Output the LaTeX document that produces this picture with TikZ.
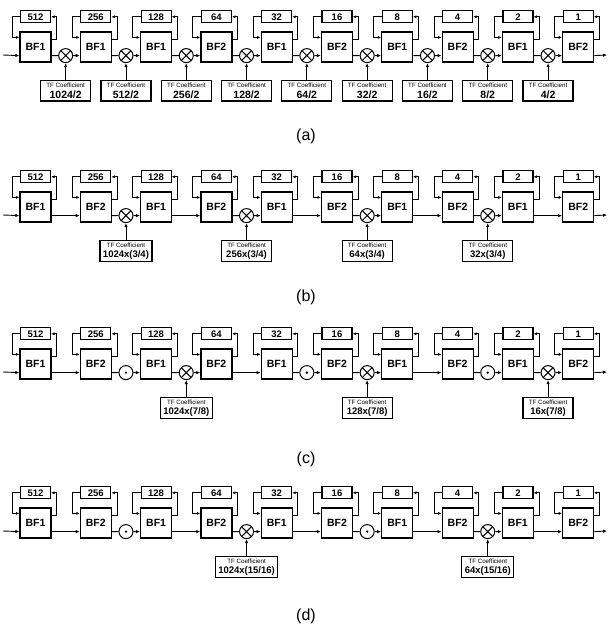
\documentclass[tikz,border=0pt]{standalone}
\usepackage{fontspec}
\setmainfont{Liberation Sans}
\usetikzlibrary{arrows.meta,positioning,calc}
\tikzset{
  bf/.style={draw, line width=1.2pt, minimum width=31pt, minimum height=30pt, inner sep=0pt, font=\bfseries\fontsize{10.5}{12}\selectfont},
  cnt/.style={draw, line width=1.2pt, minimum width=30pt, minimum height=12pt, inner sep=0pt, font=\bfseries\fontsize{9.5}{10}\selectfont},
  tf/.style={draw, line width=1.2pt, align=center, minimum width=50pt, inner xsep=3pt, inner ysep=2pt, font=\bfseries\fontsize{9.5}{10.5}\selectfont},
  tfbig/.style={tf, font=\bfseries\fontsize{10.5}{11.5}\selectfont},
  mul/.style={circle, draw, line width=1pt, minimum size=14pt, inner sep=0pt,
    path picture={\draw[line width=1pt] (path picture bounding box.north west) -- (path picture bounding box.south east)
      (path picture bounding box.north east) -- (path picture bounding box.south west);}},
  dotc/.style={circle, draw, line width=1pt, minimum size=14pt, inner sep=0pt,
    path picture={\fill (path picture bounding box.center) circle (1.3pt);}},
  sig/.style={line width=0.9pt},
  arr/.style={sig, -{Latex[length=4pt,width=3.4pt]}},
  fb/.style={line width=0.7pt, -{Latex[length=3.4pt,width=3pt]}},
  lbl/.style={font=\fontsize{16}{18}\selectfont},
}
\newcommand{\tfcoef}[1]{{\mdseries\fontsize{6.2}{7}\selectfont TF Coefficient}\\#1}

\begin{document}
\begin{tikzpicture}[x=1pt, y=-1pt]
  \useasboundingbox (0,0) rectangle (609,631);
  % BF stages with their delay buffers
  \foreach \rw/\ytop/\types in {a/32/{1,1,1,2,1,2,1,2,1,2}, b/192/{1,2,1,2,1,2,1,2,1,2},
      c/349/{1,2,1,2,1,2,1,2,1,2}, d/508/{1,2,1,2,1,2,1,2,1,2}} {
    \foreach \k [count=\i from 0] in \types {
      \pgfmathtruncatemacro\n{2^(9-\i)}
      \node[bf] (bf\rw\i) at (35.5+60.3*\i, \ytop+15) {BF\k};
      \node[cnt, above=8pt of bf\rw\i] (cnt\rw\i) {\n};
      \draw[fb] (cnt\rw\i.west) -- ++(-8pt,0) |- ([yshift=-6pt]bf\rw\i.north west);
      \draw[fb] ([yshift=-8pt]bf\rw\i.north east) -- ++(5pt,0) |- (cnt\rw\i.east);
    }
    \coordinate (in\rw) at (3, \ytop+23);
    \coordinate (out\rw) at (607, \ytop+23);
    \draw[arr] (in\rw) -- ([yshift=7pt]bf\rw0.south west);
    \draw[arr] ([yshift=7pt]bf\rw9.south east) -- (out\rw);
  }

  % plain links
  \foreach \rw/\i in {b/0,b/2,b/4,b/6,b/8,c/0,c/3,c/6,d/0,d/2,d/4,d/6,d/8} {
    \pgfmathtruncatemacro\j{\i+1}
    \draw[arr] ([yshift=7pt]bf\rw\i.south east) -- ([yshift=7pt]bf\rw\j.south west);
  }

  % dot units
  \foreach \rw/\i in {c/1,c/4,c/7,d/1,d/5} {
    \pgfmathtruncatemacro\j{\i+1}
    \node[dotc] (dot\rw\i) at ($(bf\rw\i.south east)!0.5!(bf\rw\j.south west)+(0,7pt)$) {};
    \draw[sig] ([yshift=7pt]bf\rw\i.south east) -- (dot\rw\i);
    \draw[arr] (dot\rw\i) -- ([yshift=7pt]bf\rw\j.south west);
  }

  % twiddle multipliers, row (a)
  \foreach \i/\v in {0/1024,1/512,2/256,3/128,4/64,5/32,6/16,7/8,8/4} {
    \pgfmathtruncatemacro\j{\i+1}
    \node[mul] (mula\i) at ($(bfa\i.south east)!0.5!(bfa\j.south west)+(0,7pt)$) {};
    \draw[sig] ([yshift=7pt]bfa\i.south east) -- (mula\i);
    \draw[arr] (mula\i) -- ([yshift=7pt]bfa\j.south west);
    \node[tfbig, below=17pt of mula\i] (tfa\i) {\tfcoef{\v/2}};
    \draw[arr] (tfa\i) -- (mula\i);
  }

  % twiddle multipliers, rows (b)-(d)
  \foreach \rw/\i/\v in {b/1/{1024x(3/4)}, b/3/{256x(3/4)}, b/5/{64x(3/4)}, b/7/{32x(3/4)},
      c/2/{1024x(7/8)}, c/5/{128x(7/8)}, c/8/{16x(7/8)},
      d/3/{1024x(15/16)}, d/7/{64x(15/16)}} {
    \pgfmathtruncatemacro\j{\i+1}
    \node[mul] (mul\rw\i) at ($(bf\rw\i.south east)!0.5!(bf\rw\j.south west)+(0,7pt)$) {};
    \draw[sig] ([yshift=7pt]bf\rw\i.south east) -- (mul\rw\i);
    \draw[arr] (mul\rw\i) -- ([yshift=7pt]bf\rw\j.south west);
    \node[tf, below=17pt of mul\rw\i] (tf\rw\i) {\tfcoef{\v}};
    \draw[arr] (tf\rw\i) -- (mul\rw\i);
  }

  \foreach \rw/\y in {a/136,b/297,c/459,d/616} \node[lbl] (lbl\rw) at (306,\y) {(\rw)};
\end{tikzpicture}
\end{document}
